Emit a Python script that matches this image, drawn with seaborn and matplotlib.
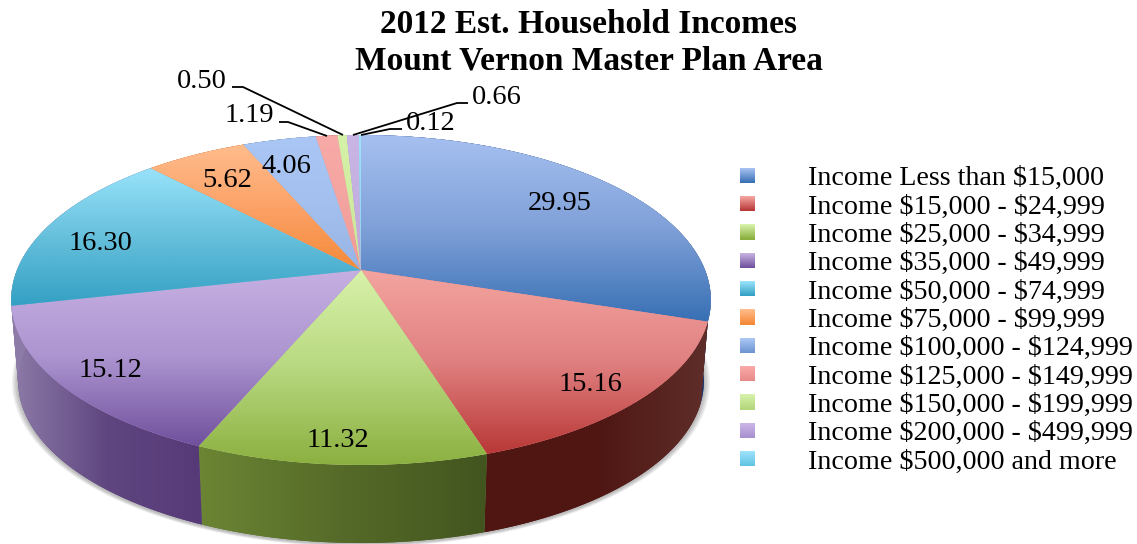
import numpy as np
import matplotlib
matplotlib.use("Agg")
import matplotlib.pyplot as plt
from matplotlib.patches import Polygon, Rectangle
from matplotlib.legend_handler import HandlerBase
import seaborn as sns

title_lines = ["2012 Est. Household Incomes", "Mount Vernon Master Plan Area"]
categories = ["Income Less than $15,000", "Income $15,000 - $24,999", "Income $25,000 - $34,999",
              "Income $35,000 - $49,999", "Income $50,000 - $74,999", "Income $75,000 - $99,999",
              "Income $100,000 - $124,999", "Income $125,000 - $149,999", "Income $150,000 - $199,999",
              "Income $200,000 - $499,999", "Income $500,000 and more"]
values = [29.95, 15.16, 11.32, 15.12, 16.30, 5.62, 4.06, 1.19, 0.50, 0.66, 0.12]
value_labels = ["29.95", "15.16", "11.32", "15.12", "16.30", "5.62", "4.06", "1.19", "0.50", "0.66", "0.12"]

top_colors = [("#a6c0f0", "#7fa0d8", "#3870b4"), ("#f4a4a0", "#e08080", "#b83836"),
              ("#d8f2aa", "#b8d880", "#8cb040"), ("#c6b0e2", "#ac94d0", "#70509c"),
              ("#98e2fa", "#66c0dc", "#34a0c4"), ("#ffbc8c", "#fca268", "#f48a38"),
              ("#aac6f4", "#a4c0ee", "#98b4e4"), ("#f8aaa8", "#f4a4a0", "#f09a96"),
              ("#d6f2aa", "#d0eca0", "#c8e498"), ("#cab6e6", "#c4b0e0", "#bca6d8"),
              ("#9ce2fa", "#94dcf4", "#8cd4ec")]
side_colors = [("#1f3a78", "#1f3a78", "#1c3468"), ("#4f1612", "#4f1612", "#5f2e2a"),
               ("#6b8534", "#556a28", "#43551f"), ("#8d7ba8", "#5f4680", "#563a78"),
               ("#8d7ba8", "#8d7ba8", "#8d7ba8"), ("#b06020", "#b06020", "#b06020"),
               ("#3a5a8a", "#3a5a8a", "#3a5a8a"), ("#8a4040", "#8a4040", "#8a4040"),
               ("#70882f", "#70882f", "#70882f"), ("#5f4680", "#5f4680", "#5f4680"),
               ("#2a7f94", "#2a7f94", "#2a7f94")]
legend_colors = [(t[0], t[2]) for t in top_colors[:6]] + [("#aac6f4", "#6d95d0"), ("#f8aaa8", "#e88a88"),
                 ("#d6f2aa", "#b4d67c"), ("#cab6e6", "#a88fd0"), ("#9ce2fa", "#62c4e4")]

# label positions in picture pixels
label_xy = [(560, 203.5), (590, 384.5), (338, 440.5), (110, 370.5), (100, 243.5), (227, 180.5), (286, 166.5),
            (249, 115.5), (202, 81.5), (497, 97.5), (431, 123.5)]
leaders = {7: [(279, 122), (288, 122), (327, 136)], 8: [(232, 87), (243, 87), (343, 135)],
           9: [(468, 103), (457, 103), (353, 135)], 10: [(402, 129), (390, 129), (361, 135)]}

sns.set_theme(style="white")
FONT = "Liberation Serif"
plt.rcParams["font.family"] = [FONT, "DejaVu Serif"]

fig = plt.figure(figsize=(11.37, 5.44), dpi=100)
ax = fig.add_axes([0, 0, 1, 1])
ax.set_axis_off()

CX, CY, A, B, K = 361.0, 270.0, 344.0, 159.5, 0.1818
S, DROP = 0.98, 82.0


def rim(theta, bottom=False):
    u, v = np.sin(theta), np.cos(theta)
    w = 1 + K * v
    x, y = A * u / w, B * v / w
    if bottom:
        x, y = x * S, y * S - DROP
    return CX + x, CY - y


def gradient_fill(xy, stops, horizontal, z):
    poly = Polygon(xy, closed=True, facecolor=stops[1], edgecolor="none", zorder=z)
    ax.add_patch(poly)
    pal = np.array(sns.blend_palette(list(stops), n_colors=128))[:, :3]
    img = pal[None, :, :] if horizontal else pal[:, None, :]
    x0, x1 = xy[:, 0].min(), xy[:, 0].max()
    y0, y1 = xy[:, 1].min(), xy[:, 1].max()
    im = ax.imshow(img, extent=(x0, x1, y1, y0), aspect="auto", origin="upper",
                   interpolation="bilinear", zorder=z + 0.1)
    im.set_clip_path(poly)


fractions = np.array(values) / sum(values)
edges = np.concatenate([[0.0], np.cumsum(fractions)]) * 2 * np.pi

# soft shadow under the disc
ring = np.linspace(0, 2 * np.pi, 361)
sx, sy = rim(ring, bottom=True)
for grow in [6, 4.5, 3, 1.5]:
    f = 1 + grow / 340
    ax.add_patch(Polygon(np.c_[CX + (sx - CX) * f, 381 + (sy - 381) * f + 1], closed=True,
                         facecolor="#000000", alpha=0.07, edgecolor="none", zorder=1))

# side walls, outer slices first so the front ones stay on top
for i in [4, 5, 6, 7, 8, 9, 10, 0, 3, 1, 2]:
    t = np.linspace(edges[i], edges[i + 1], 80)
    xt, yt = rim(t)
    xb, yb = rim(t, bottom=True)
    wall = np.r_[np.c_[xt, yt], np.c_[xb, yb][::-1]]
    gradient_fill(wall, side_colors[i], True, 2 + i * 0.2)

# top surface
for i in range(len(values)):
    t = np.linspace(edges[i], edges[i + 1], 80)
    xt, yt = rim(t)
    top = np.r_[[[CX, CY]], np.c_[xt, yt]]
    gradient_fill(top, top_colors[i], False, 6 + i * 0.2)

for (x, y), s in zip(label_xy, value_labels):
    ax.text(x, y, s, ha="center", va="center", fontsize=20.5, color="black", zorder=12)
for pts in leaders.values():
    p = np.array(pts)
    ax.plot(p[:, 0], p[:, 1], color="black", lw=1.3, zorder=11, solid_capstyle="butt")

ax.set_xlim(0, 1137)
ax.set_ylim(544, 0)


class GradientSquare(HandlerBase):
    def __init__(self, stops):
        super().__init__()
        self.stops = stops

    def create_artists(self, legend, orig, xd, yd, width, height, fontsize, trans):
        pal = sns.blend_palette(list(self.stops), n_colors=15)
        side = 15.0 * 72 / 100
        y0 = (height - side) / 2 - yd
        return [Rectangle((-xd, y0 + side * (14 - k) / 15), side, side / 15 + 0.15, facecolor=pal[k],
                          edgecolor="none", transform=trans) for k in range(15)]


handles = [Rectangle((0, 0), 1, 1, label=c) for c in categories]
hmap = {h: GradientSquare(st) for h, st in zip(handles, legend_colors)}
leg = ax.legend(handles=handles, labels=categories, handler_map=hmap, frameon=False, prop={"size": 20.2},
                loc="upper left", bbox_to_anchor=(740, 165.5), bbox_transform=ax.transData,
                borderpad=0, borderaxespad=0, handlelength=0.535, handletextpad=1.89,
                labelspacing=0.097, handleheight=0.7)
leg.set_zorder(12)
for txt in leg.get_texts():
    txt.set_parse_math(False)
    txt.set_color("black")

fig.text(589 / 1137, 1 - 43 / 544, "\n".join(title_lines), ha="center", va="center", fontsize=24,
         fontweight="bold", color="black", linespacing=1.22)

fig.savefig("out.png", dpi=100)
